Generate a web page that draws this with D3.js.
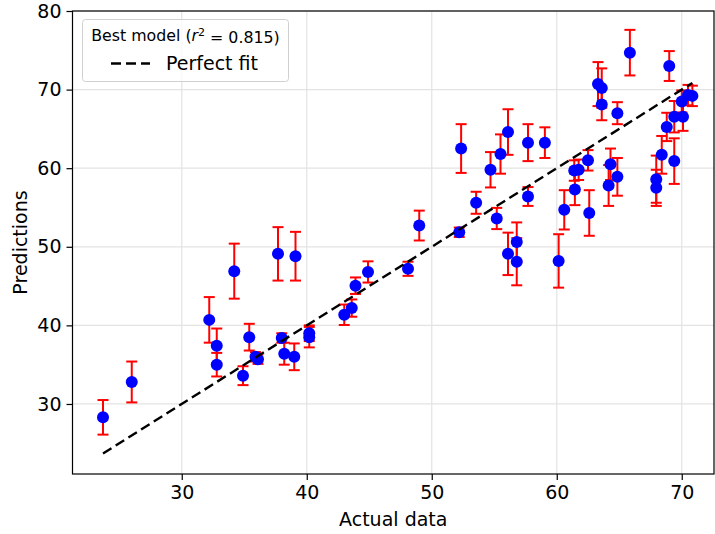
<!DOCTYPE html>
<html>
<head>
<meta charset="utf-8">
<script src="https://cdn.jsdelivr.net/npm/d3@7/dist/d3.min.js"></script>
<style>
  html, body { margin: 0; padding: 0; background: #fff; }
  svg { display: block; font-family: "DejaVu Sans", sans-serif; }
</style>
</head>
<body>
<svg id="chart" width="715" height="534"></svg>
<script>
const actual = [23.7, 26.0, 32.2, 32.8, 32.8, 34.2, 34.9, 35.4, 35.9, 36.1,
  37.7, 38.0, 38.2, 39.0, 39.1, 40.2, 40.2, 43.0, 43.6, 43.9,
  44.9, 48.1, 49.0, 52.2, 52.35, 53.55, 54.7, 55.2, 55.5, 56.1,
  56.1, 56.8, 56.8, 57.7, 57.7, 59.05, 60.15, 60.6, 61.4, 61.75,
  61.45, 62.5, 62.6, 63.3, 63.6, 63.6, 64.3, 64.15, 64.85, 64.85,
  65.85, 67.96, 67.96, 68.4, 68.8, 69.0, 69.4, 69.4, 70.0, 70.1,
  70.5, 70.85];
const predicted = [28.3, 32.8, 40.7, 37.4, 35.0, 46.9, 33.6, 38.5, 36.0, 35.7,
  49.1, 38.4, 36.4, 36.0, 48.8, 39.0, 38.5, 41.35, 42.2, 45.05,
  46.8, 47.2, 52.7, 51.85, 62.5, 55.6, 59.8, 53.6, 61.8, 64.6,
  49.1, 50.6, 48.1, 63.25, 56.4, 63.25, 48.2, 54.7, 59.7, 59.8,
  57.3, 61.0, 54.3, 70.7, 70.2, 68.1, 60.5, 57.8, 58.9, 67.0,
  74.7, 58.6, 57.5, 61.7, 65.25, 73.0, 60.9, 66.55, 68.5, 66.55,
  69.3, 69.2];
const errors = [2.2, 2.6, 2.9, 2.2, 1.5, 3.5, 1.2, 1.7, 0.6, 0.6,
  3.4, 0.6, 1.4, 1.7, 3.1, 1.0, 1.3, 1.3, 1.1, 1.05,
  1.35, 0.9, 1.9, 0.6, 3.1, 1.4, 2.25, 1.35, 2.5, 2.9,
  2.7, 2.5, 3.0, 2.35, 1.2, 1.95, 3.4, 2.5, 1.3, 1.3,
  2.0, 1.3, 2.9, 2.8, 2.5, 2.0, 2.0, 2.6, 2.4, 1.4,
  2.9, 3.0, 2.3, 2.4, 1.8, 1.9, 2.9, 2.0, 1.4, 1.8,
  1.3, 1.3];
const xTicks = [30, 40, 50, 60, 70];
const yTicks = [30, 40, 50, 60, 70, 80];
const xLabel = "Actual data";
const yLabel = "Predictions";
const legendTitle = { pre: "Best model (", sym: "r", sup: "2", post: " = 0.815)" };
const legendLabel = "Perfect fit";

const data = actual.map((a, i) => ({ a, p: predicted[i], e: errors[i] }));

const L = 72.5, R = 714, T = 11, B = 474;
const svg = d3.select("#chart");
const x = d3.scaleLinear().domain([21.26, 72.58]).range([L, R]);
const y = d3.scaleLinear().domain([21.09, 80.0]).range([B, T]);
const FS = 19;

// grid
const grid = svg.append("g");
grid.selectAll(".gx").data(xTicks).join("line")
  .attr("x1", d => x(d)).attr("x2", d => x(d)).attr("y1", T).attr("y2", B)
  .attr("stroke", "#e3e3e3").attr("stroke-width", 1.2);
grid.selectAll(".gy").data(yTicks).join("line")
  .attr("y1", d => y(d)).attr("y2", d => y(d)).attr("x1", L).attr("x2", R)
  .attr("stroke", "#e3e3e3").attr("stroke-width", 1.2);

// axes
const xAxis = d3.axisBottom(x).tickValues(xTicks).tickSize(6).tickPadding(5).tickFormat(d3.format("d"));
const yAxis = d3.axisLeft(y).tickValues(yTicks).tickSize(6).tickPadding(5).tickFormat(d3.format("d"));
const gx = svg.append("g").attr("transform", `translate(0,${B})`).call(xAxis);
const gy = svg.append("g").attr("transform", `translate(${L},0)`).call(yAxis);
[gx, gy].forEach(g => {
  g.select(".domain").remove();
  g.selectAll(".tick line").attr("stroke", "#000").attr("stroke-width", 1.2);
  g.selectAll(".tick text").attr("fill", "#000").style("font-size", FS + "px")
    .style("font-family", "'DejaVu Sans', sans-serif");
});
gx.selectAll(".tick text").attr("dy", "0.72em");

// frame
svg.append("rect").attr("x", L).attr("y", T).attr("width", R - L).attr("height", B - T)
  .attr("fill", "none").attr("stroke", "#000").attr("stroke-width", 1.2);

// error bars
const eb = svg.append("g").attr("stroke", "#ff0000").attr("stroke-width", 2).attr("fill", "none");
eb.selectAll(".v").data(data).join("line")
  .attr("x1", d => x(d.a)).attr("x2", d => x(d.a))
  .attr("y1", d => y(d.p - d.e)).attr("y2", d => y(d.p + d.e));
eb.selectAll(".ct").data(data).join("line")
  .attr("x1", d => x(d.a) - 5.5).attr("x2", d => x(d.a) + 5.5)
  .attr("y1", d => y(d.p + d.e)).attr("y2", d => y(d.p + d.e));
eb.selectAll(".cb").data(data).join("line")
  .attr("x1", d => x(d.a) - 5.5).attr("x2", d => x(d.a) + 5.5)
  .attr("y1", d => y(d.p - d.e)).attr("y2", d => y(d.p - d.e));

// points
svg.append("g").selectAll("circle").data(data).join("circle")
  .attr("cx", d => x(d.a)).attr("cy", d => y(d.p)).attr("r", 6)
  .attr("fill", "#0000ff");

// perfect fit line
const mn = d3.min(actual), mx = d3.max(actual);
svg.append("line")
  .attr("x1", x(mn)).attr("y1", y(mn)).attr("x2", x(mx)).attr("y2", y(mx))
  .attr("stroke", "#000").attr("stroke-width", 2.4).attr("stroke-dasharray", "10,5");

// labels
svg.append("text").attr("x", (L + R) / 2).attr("y", 526).attr("text-anchor", "middle")
  .style("font-size", FS + "px").text(xLabel);
svg.append("text").attr("transform", `translate(27,${(T + B) / 2}) rotate(-90)`)
  .attr("text-anchor", "middle").style("font-size", FS + "px").text(yLabel);

// legend
const lg = svg.append("g");
lg.append("rect").attr("x", 82.5).attr("y", 19.5).attr("width", 206).attr("height", 62).attr("rx", 3)
  .attr("fill", "#fff").attr("fill-opacity", 0.8).attr("stroke", "#d0d0d0").attr("stroke-width", 1);
const tt = lg.append("text").attr("x", 185.5).attr("y", 41).attr("text-anchor", "middle")
  .style("font-size", "15.8px");
tt.append("tspan").text(legendTitle.pre);
tt.append("tspan").style("font-style", "italic").text(legendTitle.sym);
tt.append("tspan").attr("dy", "-0.45em").style("font-size", "11px").text(legendTitle.sup);
tt.append("tspan").attr("dy", "0.45em").text(legendTitle.post);
lg.append("line").attr("x1", 111).attr("x2", 150).attr("y1", 63.5).attr("y2", 63.5)
  .attr("stroke", "#000").attr("stroke-width", 2.4).attr("stroke-dasharray", "10,5");
lg.append("text").attr("x", 166).attr("y", 70).style("font-size", FS + "px").text(legendLabel);
</script>
</body>
</html>
